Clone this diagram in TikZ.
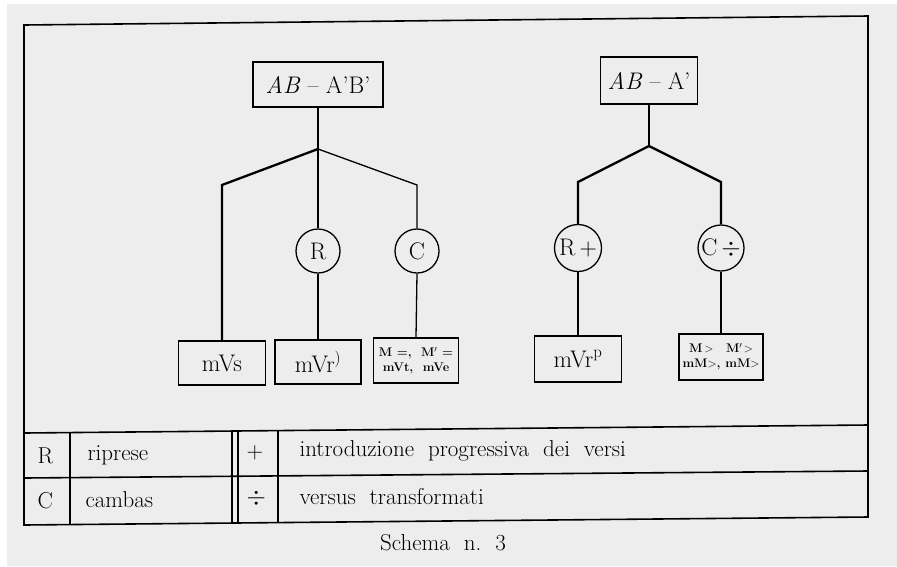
\documentclass[tikz,border=0pt]{standalone}
\usepackage{fontspec}
\begin{document}
\begin{tikzpicture}[x=1pt,y=-1pt,
  big/.style={font=\fontsize{24}{28}\selectfont},
  topbox/.style={draw,line width=1.4pt,rectangle,inner sep=0pt,big},
  botbox/.style={draw,line width=1.6pt,rectangle,inner sep=0pt,big},
  smallbox/.style={draw,line width=1.6pt,rectangle,inner sep=0pt,font=\bfseries\fontsize{12.5}{15}\selectfont,align=center},
  ring/.style={draw,line width=1.3pt,circle,inner sep=0pt,big},
  thick line/.style={line width=2.3pt},
  thin line/.style={line width=1.3pt},
  frame/.style={line width=1.6pt},
  tabtext/.style={font=\fontsize{23}{27}\selectfont,anchor=west}
]
\useasboundingbox (0,0) rectangle (897,566);
\fill[white] (0,0) rectangle (897,566);
\fill[black!7] (7,4) rectangle (897,566);

% outer frame and table
\coordinate (TL) at (24,25);
\coordinate (TR) at (868,16);
\coordinate (BR) at (868,517);
\coordinate (BL) at (24,525);
\draw[frame] (TL) -- (TR) -- (BR) -- (BL) -- cycle;
\coordinate (H1l) at (24,433); \coordinate (H1r) at (868,425);
\coordinate (H2l) at (24,478); \coordinate (H2r) at (868,471);
\draw[frame] (H1l) -- (H1r);
\draw[frame] (H2l) -- (H2r);
\foreach \xx in {70,232,238,278}{
  \draw[frame] ({\xx},{433-8*(\xx-24)/844}) -- ({\xx},{525-8*(\xx-24)/844});
}
\node[tabtext] (tR) at (34,456) {R};
\node[tabtext] (tRip) at (84,455) {riprese};
\node[tabtext] (tPlus) at (243,453) {+};
\node[tabtext] (tIntro) at (296,451) {introduzione\ \ progressiva\ \ dei\ \ versi};
\node[tabtext] (tC) at (34,501) {C};
\node[tabtext] (tCam) at (82,500) {cambas};
\node[tabtext] (tDiv) at (243,498) {$\div$};
\node[tabtext] (tVers) at (296,497) {versus\ \ transformati};
\node[font=\fontsize{23}{27}\selectfont] (cap) at (443,543) {Schema\ \ n.\ \ 3};

% tree 1
\node[topbox,minimum width=130pt,minimum height=45pt] (T1) at (318,84.5) {\textit{AB} -- A’B’};
\coordinate (J1) at (318,149);
\coordinate (L1) at (222,185);
\coordinate (R1) at (417,185);
\node[ring,minimum size=44pt] (cR) at (318,251) {R};
\node[ring,minimum size=44pt] (cC) at (417,251) {C};
\node[botbox,minimum width=87pt,minimum height=44pt] (mVs) at (222,363) {mVs};
\node[botbox,minimum width=86pt,minimum height=44pt] (mVr) at (318,362) {mVr\textsuperscript{)}};
\node[smallbox,minimum width=85pt,minimum height=45pt] (mM1) at (416,360.5) {M =,\ \ M$'$ =\\mVt,\ \ mVe};
\draw[thick line] (T1.south) -- (J1);
\draw[thick line] (J1) -- (L1) -- (mVs.north);
\draw[thin line] (J1) -- (cR.north);
\draw[thin line] (cR.south) -- (mVr.north);
\draw[thin line] (J1) -- (R1) -- (cC.north);
\draw[thin line] (cC.south) -- (mM1.north);

% tree 2
\node[topbox,minimum width=97pt,minimum height=47pt] (T2) at (649,80.5) {\textit{AB} -- A’};
\coordinate (J2) at (649,146);
\coordinate (L2) at (578,182);
\coordinate (R2) at (721,182);
\node[ring,minimum size=47pt] (cRp) at (578,248) {R\,+};
\node[ring,minimum size=46pt] (cCd) at (721,248) {C\,$\div$};
\node[botbox,minimum width=87pt,minimum height=46pt] (mVrp) at (578,359) {mVr\textsuperscript{p}};
\node[smallbox,minimum width=84pt,minimum height=46pt] (mM2) at (721,357) {M\,$>$\quad M$'\!>$\\mM$>$,\ mM$>$};
\draw[thick line] (T2.south) -- (J2);
\draw[thick line] (J2) -- (L2) -- (cRp.north);
\draw[thick line] (cRp.south) -- (mVrp.north);
\draw[thick line] (J2) -- (R2) -- (cCd.north);
\draw[thick line] (cCd.south) -- (mM2.north);
\end{tikzpicture}
\end{document}
